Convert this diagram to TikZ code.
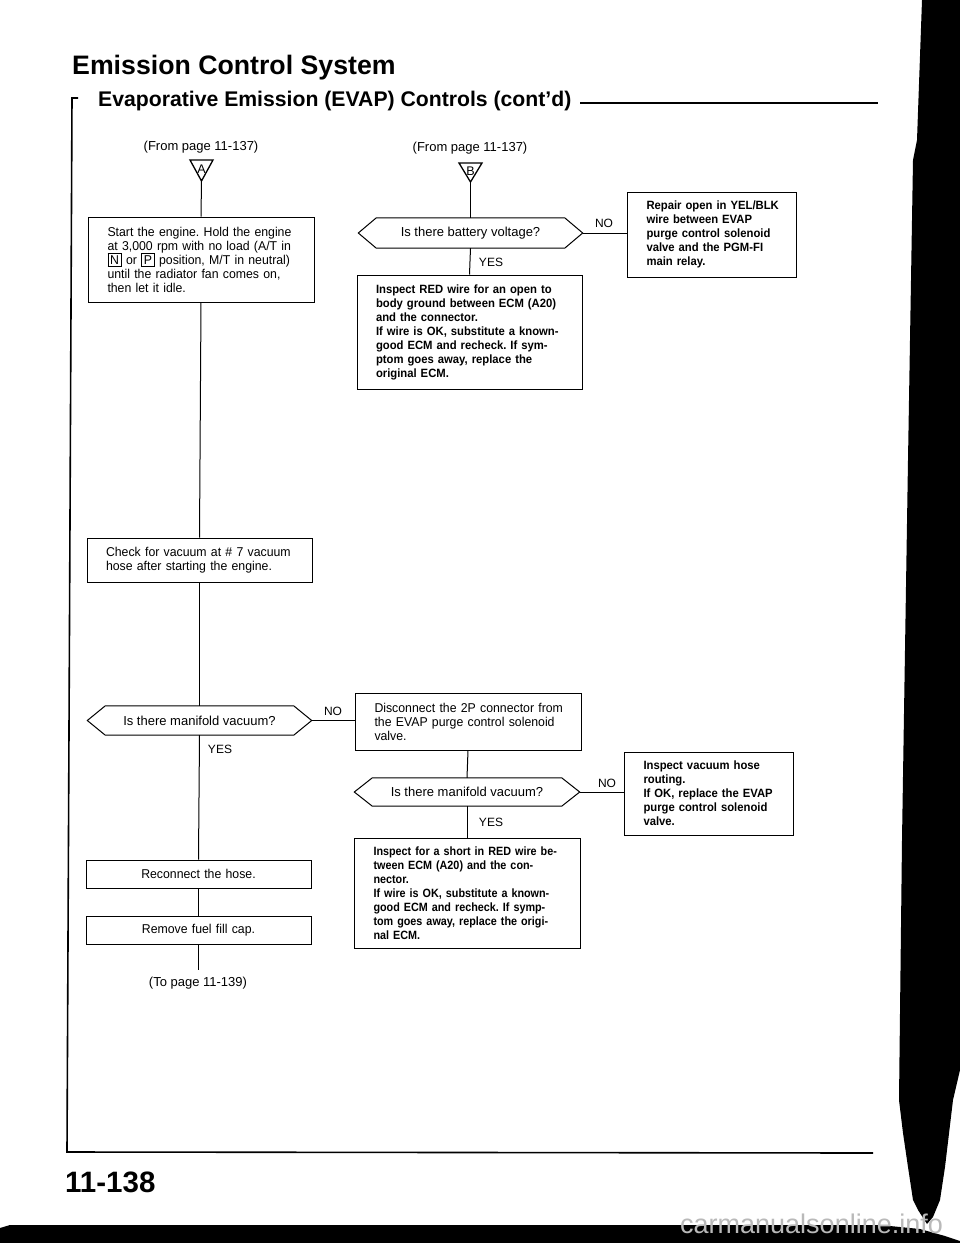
\documentclass[tikz,border=0pt]{standalone}
\usepackage{fontspec}
\setmainfont{Liberation Sans}
\newfontfamily\rgc{Liberation Sans}[FakeStretch=0.96]
\newfontfamily\bfc{Liberation Sans}[FakeStretch=0.94]
\newfontfamily\bfcc{Liberation Sans}[FakeStretch=0.9]
\frenchspacing
\newcommand{\jl}[2][187pt]{\makebox[#1][s]{#2}}
\newcommand{\kb}[1]{\smash{{\setlength{\fboxsep}{2pt}\setlength{\fboxrule}{0.7pt}\fbox{#1}}}}
\newcommand{\hexa}[1]{\draw[line width=1pt] ([xshift=-18pt]#1.west) -- (#1.north west) -- (#1.north east) -- ([xshift=18pt]#1.east) -- (#1.south east) -- (#1.south west) -- cycle;}
\tikzset{
  box/.style={draw, line width=1pt, inner sep=0pt, align=left, text width=187pt, font=\rgc\fontsize{12.8}{14}\selectfont},
  bbox/.style={box, font=\bfc\bfseries\fontsize{12}{14}\selectfont},
  cbox/.style={box, font=\bfcc\bfseries\fontsize{12}{14}\selectfont},
  dec/.style={inner sep=0pt, font=\fontsize{13}{14}\selectfont},
  lab/.style={inner sep=0pt, font=\fontsize{12}{14}\selectfont},
  ref/.style={inner sep=0pt, font=\fontsize{13}{14}\selectfont},
  tri/.style={line width=1.3pt},
  trilet/.style={inner sep=0pt, font=\fontsize{12.5}{13}\selectfont},
  conn/.style={line width=1pt},
}
\begin{document}
\begin{tikzpicture}[x=1pt,y=-1pt]
\path[fill=white] (0,0) rectangle (960,1243);
\useasboundingbox (0,0) rectangle (960,1243);

% scan edges
\fill[black] (922,0) -- (960,0) -- (960,1070) -- (953,1100) -- (945,1167) -- (940,1200) -- (933,1217) -- (927,1224) -- (918,1210) -- (913,1200) -- (908,1167) -- (903,1133) -- (899,1100) -- (902,840) -- (908,460) -- (913,160) -- (917,140) -- cycle;
\fill[black] (0,1228) -- (10,1225) -- (880,1225) -- (920,1229) -- (945,1236) -- (960,1241) -- (960,1243) -- (0,1243) -- cycle;
\node[anchor=base west, inner sep=0pt, text=gray!55, font=\fontsize{27}{27}\selectfont] (wm) at (680,1233) {carmanualsonline.info};

% titles and frame
\node[anchor=base west, inner sep=0pt, font=\bfseries\fontsize{26.7}{30}\selectfont] (title) at (72,74) {Emission Control System};
\node[anchor=base west, inner sep=0pt, font=\bfseries\fontsize{21.2}{24}\selectfont] (sub) at (98,106) {Evaporative Emission (EVAP) Controls (cont’d)};
\coordinate (rs) at (580,103);
\coordinate (re) at (878,103);
\draw[line width=1.4pt] (rs) -- (re);
\coordinate (fa) at (78,98);
\coordinate (fb) at (72,98);
\coordinate (fc) at (67,1152);
\coordinate (fd) at (873,1153);
\draw[line width=1.6pt] (fa) -- (fb) -- (fc) -- (fd);
\node[anchor=base west, inner sep=0pt, font=\bfseries\fontsize{29.5}{30}\selectfont] (pg) at (65,1192) {11-138};

% left column
\node[ref] (froma) at (201,147) {(From page 11-137)};
\draw[tri] (190,160) -- (213,160) -- (201.5,181) -- cycle;
\node[trilet] (ta) at (201.5,169) {A};
\coordinate (tab) at (201.5,181);

\node[box, minimum width=226, minimum height=85] (s1) at (201,259.5) {%
\jl{Start the engine. Hold the engine}\\
\jl{at 3,000 rpm with no load (A/T in}\\
\jl{\kb{N} or \kb{P} position, M/T in neutral)}\\
\jl{until the radiator fan comes on,}\\
then let it idle.};

\node[box, minimum width=225, minimum height=44] (c1) at (199.5,560) {%
\jl{Check for vacuum at \# 7 vacuum}\\
hose after starting the engine.};

\node[dec, minimum width=188, minimum height=29] (d1) at (199.5,720.5) {Is there manifold vacuum?};
\hexa{d1}
\coordinate (d1r) at ([xshift=18pt]d1.east);

\node[box, align=center, minimum width=225, minimum height=28] (rc) at (198.5,874) {Reconnect the hose.};
\node[box, align=center, minimum width=225, minimum height=28] (rf) at (198.5,930) {Remove fuel fill cap.};
\coordinate (endl) at (198.5,970);
\node[ref] (tonext) at (198,983) {(To page 11-139)};

\node[lab] (no2) at (333,711) {NO};
\node[lab] (yes2) at (220,749) {YES};

% middle column
\node[ref] (fromb) at (470,148) {(From page 11-137)};
\draw[tri] (459,163) -- (482,163) -- (470.5,182) -- cycle;
\node[trilet] (tb) at (470.5,171) {B};
\coordinate (tbb) at (470.5,182);

\node[dec, minimum width=188, minimum height=30] (d2) at (470.5,233) {Is there battery voltage?};
\hexa{d2}
\coordinate (d2r) at ([xshift=18pt]d2.east);
\node[lab] (no1) at (604,223) {NO};
\node[lab] (yes1) at (491,262) {YES};

\node[bbox, text width=130pt, minimum width=169, minimum height=85] (rep) at (711.5,234.5) {%
\jl[130pt]{Repair open in YEL/BLK}\\
\jl[130pt]{wire between EVAP}\\
\jl[130pt]{purge control solenoid}\\
\jl[130pt]{valve and the PGM-FI}\\
main relay.};

\node[bbox, minimum width=225, minimum height=114] (ir) at (469.5,332) {%
\jl{Inspect RED wire for an open to}\\
\jl{body ground between ECM (A20)}\\
and the connector.\\
\jl{If wire is OK, substitute a known-}\\
\jl{good ECM and recheck. If sym-}\\
\jl{ptom goes away, replace the}\\
original ECM.};

\node[box, minimum width=226, minimum height=57] (dis) at (468,721.5) {%
\jl{Disconnect the 2P connector from}\\
\jl{the EVAP purge control solenoid}\\
valve.};

\node[dec, minimum width=189, minimum height=28] (d3) at (467,792) {Is there manifold vacuum?};
\hexa{d3}
\coordinate (d3r) at ([xshift=18pt]d3.east);
\node[lab] (no3) at (607,783) {NO};
\node[lab] (yes3) at (491,822) {YES};

\node[bbox, text width=130pt, minimum width=169, minimum height=83] (iv) at (708.5,793.5) {%
\jl[130pt]{Inspect vacuum hose}\\
routing.\\
\jl[130pt]{If OK, replace the EVAP}\\
\jl[130pt]{purge control solenoid}\\
valve.};

\node[cbox, minimum width=226, minimum height=110] (sh) at (467,893) {%
\jl{Inspect for a short in RED wire be-}\\
\jl{tween ECM (A20) and the con-}\\
nector.\\
\jl{If wire is OK, substitute a known-}\\
\jl{good ECM and recheck. If symp-}\\
\jl{tom goes away, replace the origi-}\\
nal ECM.};

% connectors
\draw[conn] (tab) -- (s1.north);
\draw[conn] (s1.south) -- (c1.north);
\draw[conn] (c1.south) -- (d1.north);
\draw[conn] (d1.south) -- (rc.north);
\draw[conn] (rc.south) -- (rf.north);
\draw[conn] (rf.south) -- (endl);
\draw[conn] (d1r) -- (d1r -| dis.west);
\draw[conn] (tbb) -- (d2.north);
\draw[conn] (d2.south) -- (ir.north);
\draw[conn] (d2r) -- (d2r -| rep.west);
\draw[conn] (dis.south) -- (d3.north);
\draw[conn] (d3.south) -- (sh.north);
\draw[conn] (d3r) -- (d3r -| iv.west);
\end{tikzpicture}
\end{document}
